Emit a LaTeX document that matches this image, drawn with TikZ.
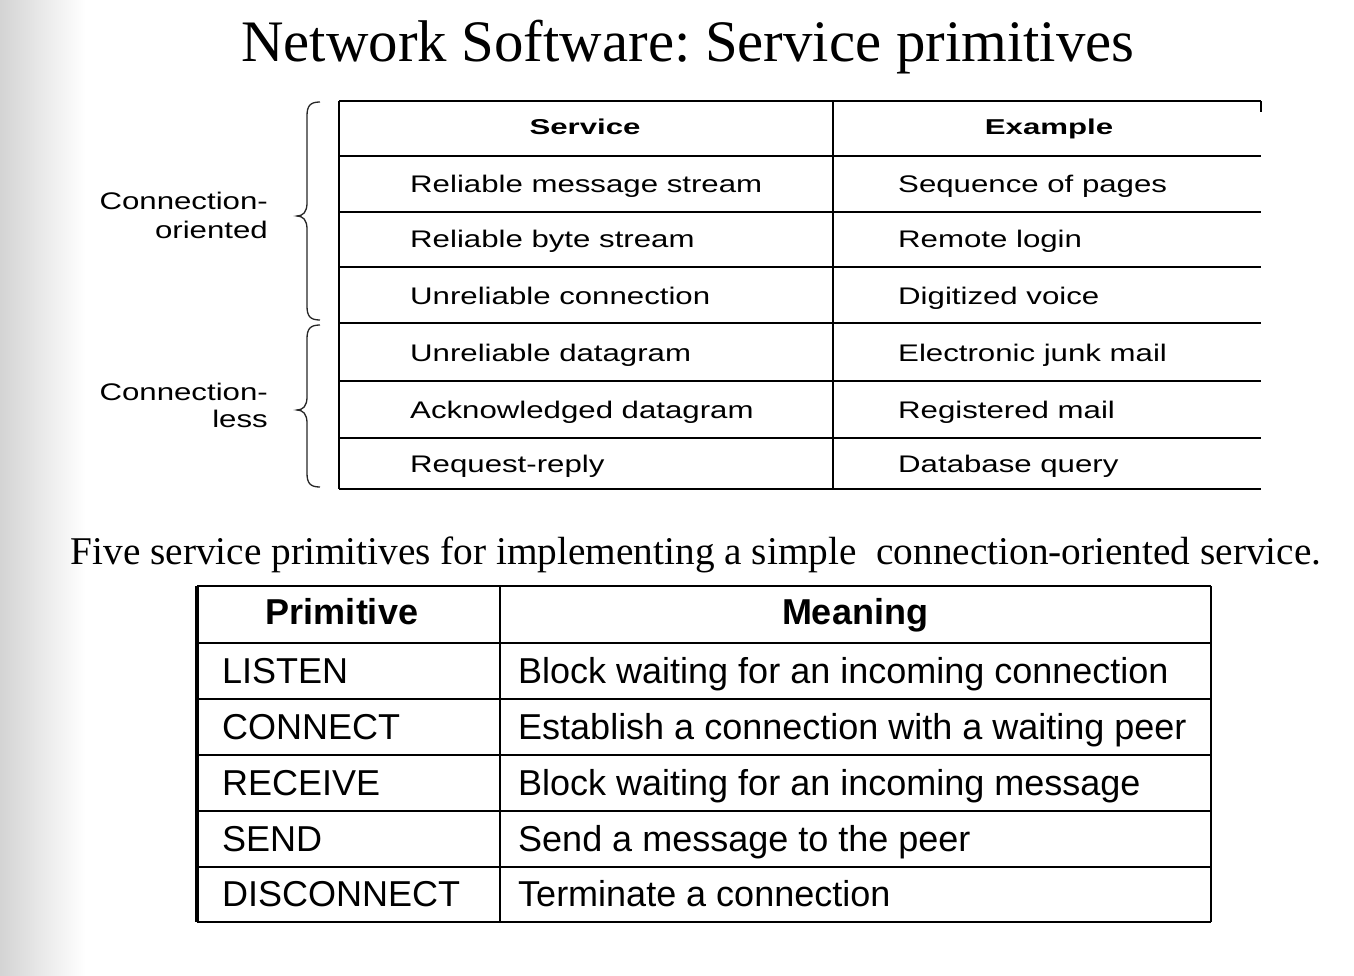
\documentclass[tikz,border=0pt]{standalone}
\usepackage{fontspec}
\setmainfont{Liberation Serif}
\newfontfamily\widesans[FakeStretch=1.3]{Liberation Sans}
\newfontfamily\headsans[FakeStretch=1.45]{Liberation Sans}
\newfontfamily\plainsans{Liberation Sans}
\frenchspacing

\begin{document}
\begin{tikzpicture}[x = 1pt, y = -1pt]
\tikzstyle{titleStyle} = [inner sep = 0pt, anchor = base, font = \fontsize{58.8}{64}\selectfont]
\tikzstyle{captionStyle} = [inner sep = 0pt, anchor = base, font = \fontsize{39.3}{44}\selectfont]
\tikzstyle{sideStyle} = [inner sep = 0pt, anchor = base east, font = \widesans\fontsize{24}{28}\selectfont]
\tikzstyle{cellStyle} = [inner sep = 0pt, anchor = base west, font = \widesans\fontsize{24}{28}\selectfont]
\tikzstyle{headStyle} = [inner sep = 0pt, anchor = base, font = \headsans\bfseries\fontsize{21.5}{26}\selectfont]
\tikzstyle{primStyle} = [inner sep = 0pt, anchor = base west, font = \plainsans\fontsize{36}{42}\selectfont]
\tikzstyle{primHeadStyle} = [inner sep = 0pt, anchor = base, font = \plainsans\bfseries\fontsize{36}{42}\selectfont]
\tikzstyle{ruleStyle} = [line width = 1.8pt]
\tikzstyle{borderStyle} = [line width = 2.4pt]
\tikzstyle{braceStyle} = [line width = 1.3pt, black!85]
\useasboundingbox (0,0) rectangle (1354,976);
\fill[left color = black!17, right color = white] (0,0) rectangle (85,976);
\node[titleStyle] (title) at (688,62) {Network Software: Service primitives};
% upper table
\draw[ruleStyle] (339,101) -- (1261,101);
\foreach \y in {156,212,267,323,381,438,489}
  \draw[ruleStyle] (339,\y) -- (1261,\y);
\draw[borderStyle] (339,101) -- (339,489);
\draw[borderStyle] (833,101) -- (833,489);
\draw[ruleStyle] (1261,101) -- (1261,112);
\node[headStyle] (hservice) at (585,135) {Service};
\node[headStyle] (hexample) at (1049,135) {Example};
\foreach \y/\svc/\ex [count = \i] in {
  193/Reliable message stream/Sequence of pages,
  248/Reliable byte stream/Remote login,
  304/Unreliable connection/Digitized voice,
  361/Unreliable datagram/Electronic junk mail,
  418/Acknowledged datagram/Registered mail,
  472/Request-reply/Database query}
{
  \node[cellStyle] (svc\i) at (410,\y) {\svc};
  \node[cellStyle] (ex\i) at (898,\y) {\ex};
}
% braces
\draw[braceStyle] (320,102) .. controls (310,102) and (307,106) .. (307,116)
  -- (307,203) .. controls (307,212) and (303,216) .. (297,216)
  .. controls (303,216) and (307,220) .. (307,229)
  -- (307,306) .. controls (307,316) and (310,320) .. (320,320);
\draw[braceStyle] (320,325) .. controls (310,325) and (307,329) .. (307,339)
  -- (307,397) .. controls (307,406) and (303,410) .. (297,410)
  .. controls (303,410) and (307,414) .. (307,423)
  -- (307,473) .. controls (307,483) and (310,487) .. (320,487);
\node[sideStyle] (co1) at (268,210) {Connection-};
\node[sideStyle] (co2) at (268,239) {oriented};
\node[sideStyle] (cl1) at (268,400) {Connection-};
\node[sideStyle] (cl2) at (268,427) {less};
\node[captionStyle] (caption) at (696,564) {Five service primitives for implementing a simple\ \ connection-oriented service.};
% lower table
\foreach \y in {586,643,699,755,811,867,922}
  \draw[ruleStyle] (197,\y) -- (1211,\y);
\draw[line width = 3.2pt] (197,586) -- (197,922);
\draw[borderStyle] (500,586) -- (500,922);
\draw[ruleStyle] (1211,586) -- (1211,922);
\node[primHeadStyle] (hprim) at (342,624) {Primitive};
\node[primHeadStyle] (hmean) at (855,624) {Meaning};
\foreach \y/\prim/\mean [count = \i] in {
  683/LISTEN/Block waiting for an incoming connection,
  739/CONNECT/Establish a connection with a waiting peer,
  795/RECEIVE/Block waiting for an incoming message,
  851/SEND/Send a message to the peer,
  906/DISCONNECT/Terminate a connection}
{
  \node[primStyle] (prim\i) at (222,\y) {\prim};
  \node[primStyle] (mean\i) at (518,\y) {\mean};
}
\end{tikzpicture}
\end{document}
